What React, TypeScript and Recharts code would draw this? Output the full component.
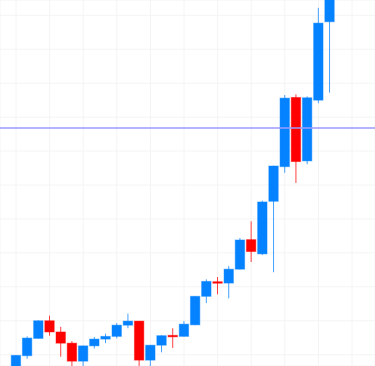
import { BarChart, Bar, XAxis, YAxis, CartesianGrid, ReferenceLine } from 'recharts'

const days = [0, 1, 2, 3, 4, 5, 6, 7, 8, 9, 10, 11, 12, 13, 14, 15, 16, 17, 18, 19, 20, 21, 22, 23, 24, 25, 26, 27, 28]
const opens = [96.1, 99.7, 104.8, 110.0, 106.7, 103.4, 98.1, 102.6, 104.6, 105.4, 108.7, 109.9, 98.4, 102.8, 105.7, 105.4, 108.8, 117.2, 121.5, 121.1, 125.2, 133.9, 129.7, 145.2, 155.4, 175.8, 157.1, 175.0, 198.1]
const highs = [99.9, 105.4, 110.1, 111.5, 108.2, 104.0, 102.7, 105.2, 106.2, 109.3, 112.1, 109.9, 102.8, 105.7, 107.8, 109.9, 117.3, 122.2, 122.9, 126.1, 134.4, 139.3, 145.4, 155.7, 176.5, 176.7, 176.1, 202.2, 209.0]
const lows = [95.5, 98.8, 104.8, 105.6, 99.4, 96.1, 96.4, 101.8, 103.4, 104.8, 107.8, 96.1, 96.4, 100.7, 102.0, 105.4, 108.7, 115.2, 117.8, 116.6, 125.1, 127.3, 129.4, 124.3, 153.6, 150.6, 156.1, 174.1, 177.2]
const closes = [99.8, 104.9, 110.0, 106.7, 103.4, 98.1, 102.6, 104.6, 105.4, 108.7, 109.9, 98.4, 102.8, 105.6, 105.5, 109.0, 117.2, 121.6, 121.3, 125.2, 133.8, 130.4, 145.0, 155.6, 175.6, 156.9, 175.7, 197.7, 207.5]

const priceTicks = [100, 110, 120, 130, 140, 150, 160, 170, 180, 190, 200]
const dayTicks = [0, 3, 6, 9, 12, 15, 18, 21, 24, 27, 30]
const markLevel = 166.8

const data = days.map((d, i) => ({
  day: d,
  open: opens[i],
  high: highs[i],
  low: lows[i],
  close: closes[i],
}))

const UP = '#0582ff'
const DOWN = '#ff0000'

const Candle = (props: any) => {
  const { x, y, width, height, payload } = props
  const { open, close, high, low } = payload
  const top = Math.min(y, y + height)
  const h = Math.abs(height)
  const ratio = h / (high - low || 1)
  const yOf = (v: number) => top + (high - v) * ratio
  const color = close >= open ? UP : DOWN
  const cx = x + width / 2
  const bodyW = 9.4
  const bTop = yOf(Math.max(open, close))
  const bH = Math.max(1.5, yOf(Math.min(open, close)) - bTop)
  return (
    <g>
      <line x1={cx} x2={cx} y1={yOf(high)} y2={yOf(low)} stroke={color} strokeOpacity={0.75} strokeWidth={1} />
      <rect x={cx - bodyW / 2} y={bTop} width={bodyW} height={bH} fill={color} stroke={color} strokeOpacity={0.45} strokeWidth={1} />
    </g>
  )
}

export default function App() {
  return (
    <div style={{ position: 'absolute', left: 0, top: 0, background: '#fff' }}>
      <BarChart width={375} height={366} data={data} margin={{ top: 0, right: 0, left: 0, bottom: 0 }}>
        <CartesianGrid stroke="#f4f4f4" strokeWidth={1} />
        <XAxis dataKey="day" type="number" domain={[-1.43, 32.05]} ticks={dayTicks} allowDataOverflow hide />
        <YAxis type="number" domain={[96.67, 204.51]} ticks={priceTicks} allowDataOverflow hide />
        <ReferenceLine y={markLevel} stroke="#9a9aff" strokeWidth={1.5} />
        <Bar dataKey={(d: any) => [d.low, d.high]} barSize={11} shape={<Candle />} isAnimationActive={false} />
      </BarChart>
    </div>
  )
}
